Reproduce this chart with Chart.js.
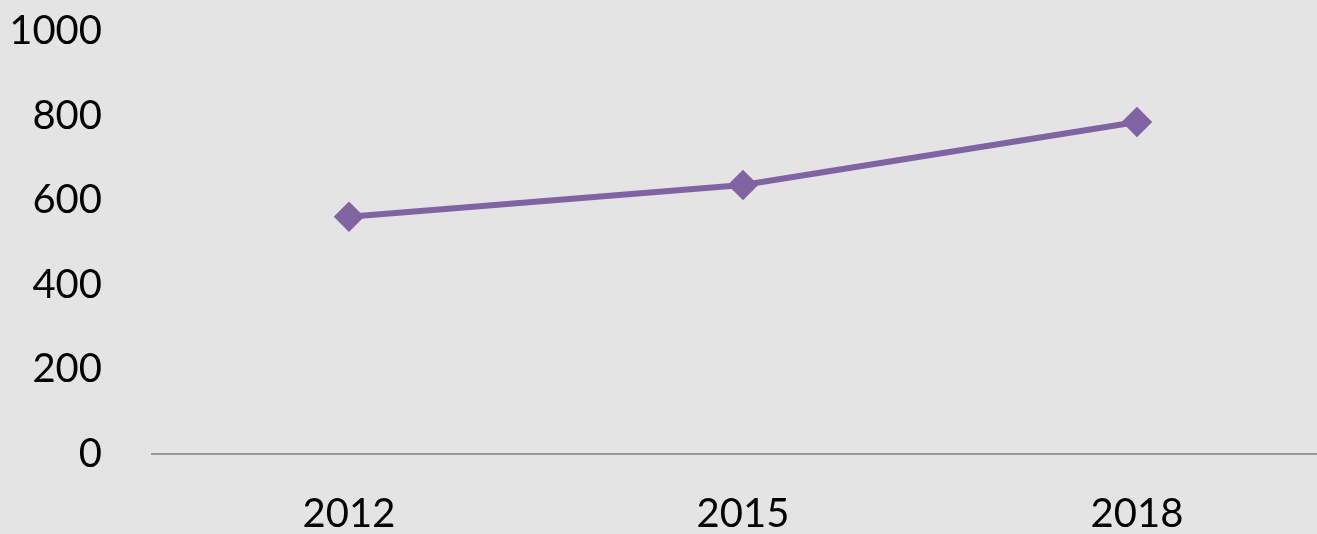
<!DOCTYPE html>
<html>
<head>
<meta charset="utf-8">
<script src="https://cdn.jsdelivr.net/npm/chart.js@4"></script>
<style>
  html, body { margin: 0; padding: 0; overflow: hidden; background: #e4e4e4; }
  #clip { width: 1317px; height: 534px; overflow: hidden; position: relative; }
  canvas { display: block; }
</style>
</head>
<body>
<div id="clip"><canvas id="c" width="1334" height="534" style="width:1334px;height:534px"></canvas></div>
<script>
const categories = ['2012', '2015', '2018'];
const seriesValues = [561, 636, 785];
const yTicks = [0, 200, 400, 600, 800, 1000];

const ctx = document.getElementById('c');
new Chart(ctx, {
  type: 'line',
  data: {
    labels: categories,
    datasets: [{
      data: seriesValues,
      borderColor: '#8064a2',
      backgroundColor: '#8064a2',
      borderWidth: 6,
      pointStyle: 'rectRot',
      pointRadius: 11,
      pointHoverRadius: 11,
      tension: 0,
      fill: false,
      clip: false
    }]
  },
  options: {
    responsive: false,
    maintainAspectRatio: false,
    animation: false,
    events: [],
    layout: { autoPadding: false, padding: { top: 31, bottom: 0, left: 0, right: 0 } },
    plugins: { legend: { display: false }, tooltip: { enabled: false } },
    scales: {
      x: {
        offset: true,
        afterFit: (s) => { s.height = 80; s.paddingLeft = 0; s.paddingRight = 0; },
        grid: { display: false, drawTicks: false },
        border: { display: true, color: '#979797', width: 2 },
        ticks: { color: '#000', font: { family: 'Lato', size: 40 }, padding: 36, maxRotation: 0 }
      },
      y: {
        min: 0, max: 1000,
        afterBuildTicks: (s) => { s.ticks = yTicks.map(v => ({ value: v })); },
        afterFit: (s) => { s.width = 152; s.paddingTop = 0; s.paddingBottom = 0; },
        grid: { display: false, drawTicks: false },
        border: { display: false },
        ticks: { color: '#000', font: { family: 'Lato', size: 40 }, padding: 50, callback: (v) => String(v) }
      }
    }
  }
});
</script>
</body>
</html>
